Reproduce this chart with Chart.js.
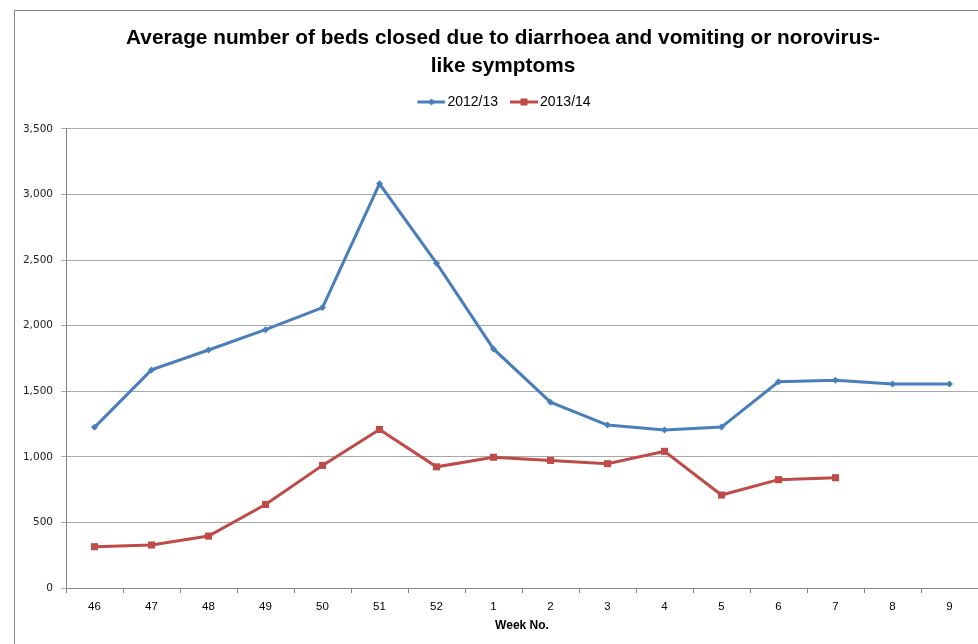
<!DOCTYPE html>
<html>
<head>
<meta charset="utf-8">
<title>Beds closed – D&amp;V / norovirus</title>
<script src="https://cdn.jsdelivr.net/npm/chart.js@4/dist/chart.umd.min.js"></script>
<style>
  html, body { margin: 0; padding: 0; background: #ffffff; }
  #wrap { width: 978px; height: 644px; }
</style>
</head>
<body>
<div id="wrap"><canvas id="chart" width="978" height="644"></canvas></div>
<script>
// Week numbers across the winter season
const weeks = ['46', '47', '48', '49', '50', '51', '52', '1', '2', '3', '4', '5', '6', '7', '8', '9'];

// Average number of beds closed per week
const season2012 = [1225, 1663, 1815, 1970, 2138, 3082, 2477, 1823, 1417, 1242, 1204, 1227, 1573, 1585, 1555, 1555];
const season2013 = [315, 328, 396, 637, 935, 1209, 924, 997, 973, 948, 1042, 709, 826, 841, null, null];

const seriesNames = ['2012/13', '2013/14'];
const yTicks = { min: 0, max: 3500, step: 500 };

const BLUE = '#4A7EBB';
const RED = '#BE4B48';
const FONT = '"Liberation Sans", Arial, sans-serif';

// Small "line with marker" swatches for the legend (7px transparent lead-in on the left)
function legendSwatch(color, marker) {
  const c = document.createElement('canvas');
  c.width = 35; c.height = 10;
  const g = c.getContext('2d');
  g.strokeStyle = color;
  g.lineWidth = 3;
  g.beginPath(); g.moveTo(7, 5); g.lineTo(35, 5); g.stroke();
  g.fillStyle = color;
  if (marker === 'diamond') {
    g.beginPath(); g.moveTo(21, 1.5); g.lineTo(24.5, 5); g.lineTo(21, 8.5); g.lineTo(17.5, 5); g.closePath(); g.fill();
  } else {
    g.fillRect(17.5, 1.5, 7, 7);
  }
  return c;
}
const swatches = [legendSwatch(BLUE, 'diamond'), legendSwatch(RED, 'square')];

// Outer chart frame and white background
const framePlugin = {
  id: 'frame',
  beforeDraw(chart) {
    const ctx = chart.ctx;
    ctx.save();
    ctx.fillStyle = '#ffffff';
    ctx.fillRect(0, 0, chart.width, chart.height);
    ctx.strokeStyle = '#868686';
    ctx.lineWidth = 1;
    ctx.strokeRect(14.5, 10.5, 1000, 700);
    ctx.restore();
  }
};

// Let the value-axis labels use the space to the left of the padded layout
const axisLabelRoom = {
  id: 'axisLabelRoom',
  afterLayout(chart) {
    const y = chart.scales.y;
    if (y) y.left = 0;
  }
};

new Chart(document.getElementById('chart'), {
  type: 'line',
  data: {
    labels: weeks,
    datasets: [
      {
        label: seriesNames[0],
        data: season2012,
        borderColor: BLUE,
        backgroundColor: BLUE,
        borderWidth: 3,
        tension: 0,
        pointStyle: 'rectRot',
        pointRadius: 3.5,
        pointBorderWidth: 0,
        pointHoverRadius: 3.5
      },
      {
        label: seriesNames[1],
        data: season2013,
        borderColor: RED,
        backgroundColor: RED,
        borderWidth: 3,
        tension: 0,
        pointStyle: 'rect',
        pointRadius: 5,
        pointBorderWidth: 0,
        pointHoverRadius: 5
      }
    ]
  },
  options: {
    responsive: false,
    animation: false,
    events: [],
    layout: { padding: { left: 28, right: 0, top: 0, bottom: 0 }, autoPadding: false },
    plugins: {
      title: {
        display: true,
        text: ['Average number of beds closed due to diarrhoea and vomiting or norovirus-', 'like symptoms'],
        color: '#000000',
        font: { family: FONT, size: 20.8, weight: 'bold', lineHeight: 1.346 },
        padding: { top: 24, bottom: 5 }
      },
      legend: {
        display: true,
        position: 'top',
        labels: {
          usePointStyle: true,
          pointStyleWidth: 25,
          padding: 10,
          color: '#000000',
          font: { family: FONT, size: 14 },
          generateLabels(chart) {
            const items = Chart.defaults.plugins.legend.labels.generateLabels(chart);
            items.forEach((it, i) => { it.pointStyle = swatches[i]; });
            return items;
          }
        }
      },
      tooltip: { enabled: false }
    },
    scales: {
      x: {
        type: 'category',
        offset: true,
        grid: {
          display: true,
          offset: true,
          drawOnChartArea: false,
          drawTicks: true,
          tickLength: 5,
          color: '#868686'
        },
        border: { display: true, color: '#868686' },
        ticks: {
          color: '#000000',
          padding: 7,
          maxRotation: 0,
          autoSkip: false,
          font: { family: FONT, size: 11.5 }
        },
        title: {
          display: true,
          text: 'Week No.',
          color: '#000000',
          font: { family: FONT, size: 12, weight: 'bold' },
          padding: { top: 0, bottom: 11 }
        },
        afterFit(scale) {
          scale.height = 56;
          scale.paddingLeft = 0;
          scale.paddingRight = 0;
        }
      },
      // empty top band separating the legend from the plot
      xTop: {
        type: 'category',
        position: 'top',
        offset: true,
        grid: { display: false },
        border: { display: false },
        ticks: { display: false },
        afterFit(scale) {
          scale.height = 10;
          scale.paddingLeft = 0;
          scale.paddingRight = 0;
        }
      },
      y: {
        min: yTicks.min,
        max: yTicks.max,
        grid: {
          color: '#a8a8a8',
          tickLength: 5,
          drawTicks: true
        },
        border: { display: true, color: '#868686' },
        ticks: {
          stepSize: yTicks.step,
          padding: 8,
          color: '#222222',
          font: { family: '"DejaVu Sans", Verdana, sans-serif', size: 10.5 },
          callback: (v) => Number(v).toLocaleString('en-US')
        },
        afterFit(scale) { scale.width = 38; }
      }
    }
  },
  plugins: [framePlugin, axisLabelRoom]
});
</script>
</body>
</html>
